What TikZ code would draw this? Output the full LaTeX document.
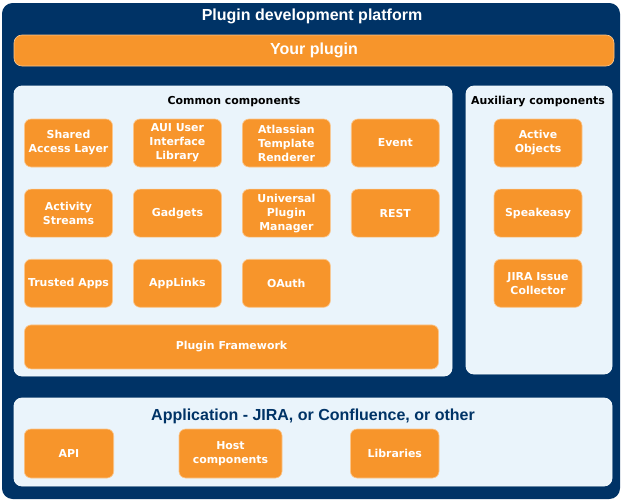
\documentclass[tikz,border=0pt]{standalone}
\usepackage{fontspec}
\setmainfont{Liberation Sans}
\newfontfamily\boxfont{DejaVu Sans}
\usetikzlibrary{positioning}

\definecolor{platblue}{HTML}{003366}
\definecolor{plugorange}{HTML}{F7952B}
\definecolor{panelblue}{HTML}{EAF4FB}

\begin{document}
\begin{tikzpicture}[
    x=0.75pt, y=-0.75pt,
    box/.style={rectangle, draw=plugorange!55!white, line width=0.5pt, fill=plugorange, rounded corners=5pt, minimum width=66pt, minimum height=36pt, inner sep=1pt, align=center, text=white, font=\boxfont\bfseries\fontsize{8.2}{10.5}\selectfont},
    panel/.style={rectangle, draw=panelblue!50!white, line width=0.6pt, fill=panelblue, rounded corners=6pt},
    paneltitle/.style={inner sep=0pt, text=black, font=\boxfont\bfseries\fontsize{8.2}{10}\selectfont},
    bigtitle/.style={inner sep=0pt, font=\bfseries\fontsize{12}{14}\selectfont},
  ]
    \useasboundingbox (0,0) rectangle (621,501);

    \node[rectangle, fill=platblue, rounded corners=8pt, minimum width=463.5pt, minimum height=372pt] (platform) at (311,251) {};
    \node[bigtitle, text=white] (platformlbl) at (312,16) {Plugin development platform};
    \node[box, rounded corners=6pt, minimum width=450pt, minimum height=23.25pt, font=\bfseries\fontsize{12}{14}\selectfont] (yours) at (314,50.5) {Your plugin};

    \node[panel, minimum width=328.5pt, minimum height=217.5pt] (common) at (233,231) {};
    \node[paneltitle] (commonlbl) at (234,101.5) {Common components};
    \node[panel, minimum width=109.5pt, minimum height=216pt] (aux) at (539,230) {};
    \node[paneltitle] (auxlbl) at (538,101.5) {Auxiliary components};
    \node[panel, minimum width=448.5pt, minimum height=66pt] (app) at (313,442) {};
    \node[bigtitle, text=platblue] (applbl) at (313,416.5) {Application - JIRA, or Confluence, or other};

    \node[box] (sal) at (68.5,143) {Shared\\Access Layer};
    \node[box, right=15.2pt of sal] (aui) {AUI User\\Interface\\Library};
    \node[box, right=15.2pt of aui] (atr) {Atlassian\\Template\\Renderer};
    \node[box, right=15.2pt of atr] (event) {Event};
    \node[box, below=16.1pt of sal] (streams) {Activity\\Streams};
    \node[box, right=15.2pt of streams] (gadgets) {Gadgets};
    \node[box, right=15.2pt of gadgets] (upm) {Universal\\Plugin\\Manager};
    \node[box, right=15.2pt of upm] (rest) {REST};
    \node[box, below=16.1pt of streams] (trusted) {Trusted Apps};
    \node[box, right=15.2pt of trusted] (applinks) {AppLinks};
    \node[box, right=15.2pt of applinks] (oauth) {OAuth};
    \node[box, anchor=north west, minimum width=310.5pt, minimum height=33pt] (pf) at ([yshift=-12.75pt]trusted.south west) {Plugin Framework};

    \node[box] (ao) at (538,143) {Active\\Objects};
    \node[box, below=16.1pt of ao] (speakeasy) {Speakeasy};
    \node[box, below=16.1pt of speakeasy] (jic) {JIRA Issue\\Collector};

    \node[box, minimum width=67pt, minimum height=36.75pt] (api) at (69,453.5) {API};
    \node[box, minimum width=77.25pt, minimum height=36.75pt] (host) at (230.5,453.5) {Host\\components};
    \node[box, minimum width=66.4pt, minimum height=36.75pt] (libs) at (394.75,453.5) {Libraries};
  \end{tikzpicture}
\end{document}
